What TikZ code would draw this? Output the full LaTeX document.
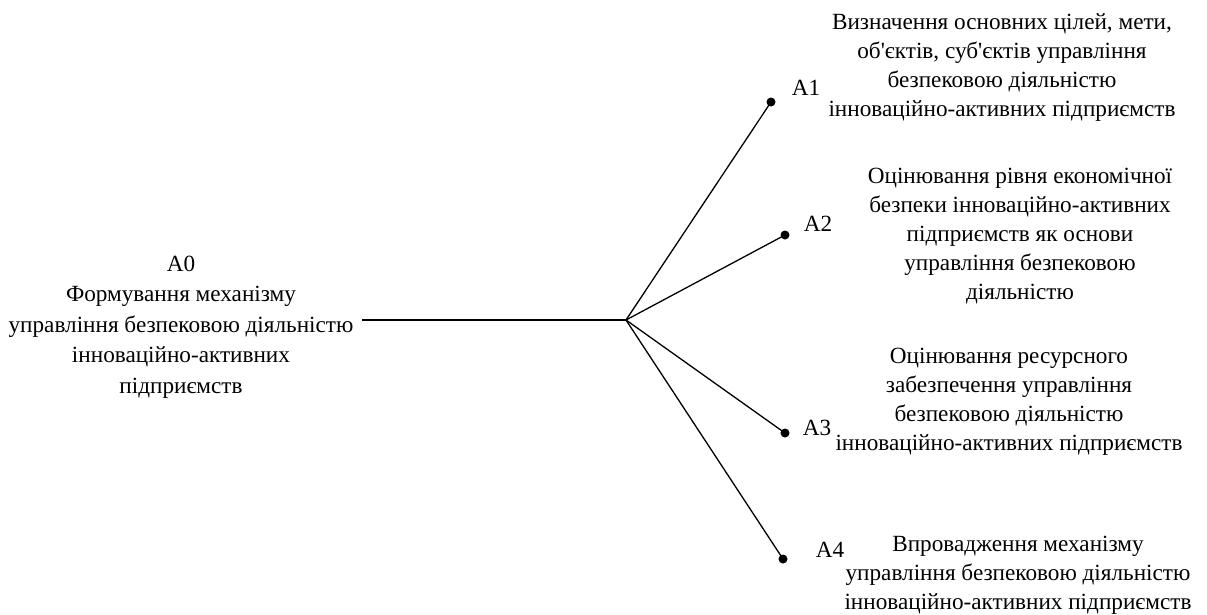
\documentclass[tikz,border=0pt]{standalone}
\usepackage{fontspec}
\setmainfont{Liberation Serif}[Ligatures=TeXOff]
\begin{document}
\begin{tikzpicture}[x=1pt,y=-1pt,
  txt/.style={align=center,font=\fontsize{23.2}{29}\selectfont,inner sep=0pt},
  lbl/.style={font=\fontsize{23.2}{29}\selectfont,inner sep=0pt},
  dotn/.style={circle,fill=black,inner sep=0pt,minimum size=9pt},
  conn/.style={line width=1.3pt}]
\useasboundingbox (0,0) rectangle (1207,614);
\node[txt,font=\fontsize{23.2}{30.5}\selectfont] (a0) at (181,327) {A0\\Формування механізму\\управління безпековою діяльністю\\інноваційно-активних\\підприємств};
\coordinate (a0e) at (362,320);
\coordinate (hub) at (626,320);
\node[dotn] (d1) at (771,102) {};
\node[dotn] (d2) at (785,235) {};
\node[dotn] (d3) at (785,433) {};
\node[dotn] (d4) at (783,559) {};
\node[lbl] (l1) at (806,88) {A1};
\node[lbl] (l2) at (818,224) {A2};
\node[lbl] (l3) at (817,428) {A3};
\node[lbl] (l4) at (830,550) {A4};
\node[txt] (t1) at (1002,68) {Визначення основних цілей, мети,\\об'єктів, суб'єктів управління\\безпековою діяльністю\\інноваційно-активних підприємств};
\node[txt] (t2) at (1020,236) {Оцінювання рівня економічної\\безпеки інноваційно-активних\\підприємств як основи\\управління безпековою\\діяльністю};
\node[txt] (t3) at (1009,402) {Оцінювання ресурсного\\забезпечення управління\\безпековою діяльністю\\інноваційно-активних підприємств};
\node[txt] (t4) at (1018,575) {Впровадження механізму\\управління безпековою діяльністю\\інноваційно-активних підприємств};
\draw[conn] (a0e) -- (hub);
\draw[conn] (hub) -- (d1.center);
\draw[conn] (hub) -- (d2.center);
\draw[conn] (hub) -- (d3.center);
\draw[conn] (hub) -- (d4.center);
\end{tikzpicture}
\end{document}
